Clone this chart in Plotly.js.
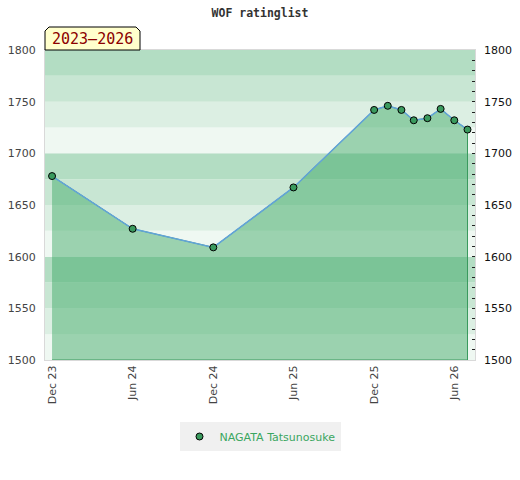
<!DOCTYPE html>
<html>
<head>
<meta charset="utf-8">
<script src="https://cdn.plot.ly/plotly-3.0.1.min.js"></script>
<style>html,body{margin:0;padding:0;background:#fff;}#chart{width:520px;height:480px;}</style>
</head>
<body>
<div id="chart"></div>
<script>
// ---- data ----
const dates = ["2023-12-01","2024-06-01","2024-12-01","2025-06-01","2025-12-01","2026-01-01","2026-02-01","2026-03-01","2026-04-01","2026-05-01","2026-06-01","2026-07-01"];
const ratings = [1678, 1627, 1609, 1667, 1742, 1746, 1742, 1732, 1734, 1743, 1732, 1723];
const playerName = "NAGATA Tatsunosuke";
const chartTitle = "WOF ratinglist";
const periodLabel = "2023\u20132026";
const yMin = 1500, yMax = 1800;
const xRange = ["2023-11-15", "2026-07-18"];

// ---- styling ----
const bandColors = ["#eff8f2", "#dcefe3", "#c8e6d3", "#b3ddc3"]; // bottom to top within each 100
const shapes = [];
for (let v = yMin, i = 0; v < yMax; v += 25, i++) {
  shapes.push({type:"rect", xref:"paper", yref:"y", x0:0, x1:1, y0:v, y1:v+25,
    fillcolor: bandColors[i % 4], line:{width:0}, layer:"below"});
}
// label box (pixel -> paper helpers)
const L=45, R=45, T=50, B=120, W=520, H=480;
const pw = W-L-R, ph = H-T-B;
const px = x => (x-L)/pw, py = y => (H-B-y)/ph;
const bx0=45, bx1=140, by0=27, by1=50, c=4;
shapes.push({type:"path", xref:"paper", yref:"paper",
  path:`M ${px(bx0)},${py(by1)} L ${px(bx0)},${py(by0+c)} L ${px(bx0+c)},${py(by0)} L ${px(bx1-c)},${py(by0)} L ${px(bx1)},${py(by0+c)} L ${px(bx1)},${py(by1)} Z`,
  fillcolor:"#ffffcc", line:{color:"#000", width:1}, layer:"above"});

const polyX = dates.concat([dates[dates.length-1], dates[0]]);
const polyY = ratings.concat([yMin, yMin]);

const traces = [
  {x: polyX, y: polyY, type:"scatter", mode:"lines", fill:"toself",
   fillcolor:"rgba(62,169,102,0.48)", line:{color:"#3a9a5e", width:1},
   hoverinfo:"skip", showlegend:false},
  {x: dates, y: ratings, type:"scatter", mode:"lines",
   line:{color:"#62a3d9", width:1.5}, showlegend:false},
  {x: dates, y: ratings, type:"scatter", mode:"markers", name: playerName,
   marker:{color:"#3a9a5e", size:7, line:{color:"#000", width:1}}},
  {x: [dates[0]], y: [yMin], yaxis:"y2", type:"scatter", mode:"markers",
   marker:{opacity:0}, showlegend:false, hoverinfo:"skip"}
];

const layout = {
  width: W, height: H,
  margin:{l:L, r:R, t:T, b:B, pad:0},
  paper_bgcolor:"#fff", plot_bgcolor:"#fff",
  title:{text: chartTitle, x:0.5, xanchor:"center", y:1-13/H, yanchor:"middle",
    font:{family:"DejaVu Sans Mono", size:11.5, color:"#333", weight:"bold"}},
  xaxis:{type:"date", range:xRange, tick0:"2023-12-01", dtick:"M6", tickformat:"%b %y",
    tickangle:-90, showgrid:false, zeroline:false, ticks:"",
    showline:true, linecolor:"#d9d9d9", linewidth:1, mirror:true,
    tickfont:{family:"DejaVu Sans", size:11, color:"#444"}},
  yaxis:{range:[yMin,yMax], dtick:50, tick0:1500, showgrid:false, zeroline:false, ticks:"",
    showline:true, linecolor:"#d9d9d9", linewidth:1, mirror:true, ticklabelstandoff:6,
    tickfont:{family:"DejaVu Sans", size:11, color:"#444"}},
  yaxis2:{range:[yMin,yMax], dtick:50, tick0:1500, overlaying:"y", side:"right",
    showgrid:false, zeroline:false, ticks:"inside", ticklen:3, tickcolor:"#222", tickwidth:1,
    minor:{dtick:10, tick0:1500, ticks:"inside", ticklen:3, tickcolor:"#222", tickwidth:1, showgrid:false},
    ticklabelstandoff:8,
    tickfont:{family:"DejaVu Sans", size:11, color:"#111"}},
  shapes: shapes,
  annotations:[{xref:"paper", yref:"paper", x:px((bx0+bx1)/2), y:py((by0+by1)/2+0.5),
    xanchor:"center", yanchor:"middle", showarrow:false, text: periodLabel,
    font:{family:"DejaVu Sans Mono", size:15, color:"#8b0000"}}],
  showlegend:true,
  legend:{orientation:"h", x:0.5, xanchor:"center", y:py(422), yanchor:"top", itemwidth:30,
    bgcolor:"#f0f0f0", font:{family:"DejaVu Sans", size:11, color:"#3aa660"}}
};

Plotly.newPlot("chart", traces, layout, {displayModeBar:false, staticPlot:true});
</script>
</body>
</html>
